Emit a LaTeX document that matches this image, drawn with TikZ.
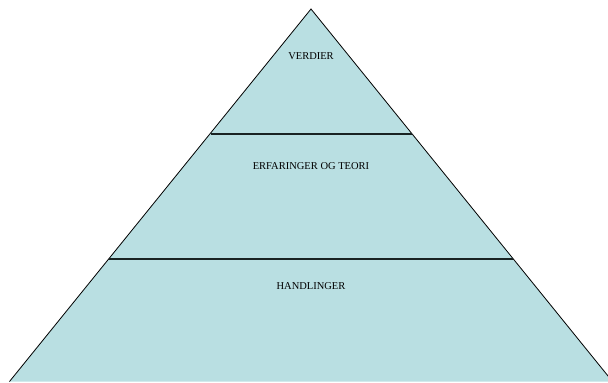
\documentclass[tikz,border=0pt]{standalone}
\usepackage{fontspec}
\setmainfont{Liberation Serif}
\definecolor{pyrfill}{RGB}{185,223,226}
\definecolor{pyrline}{RGB}{25,35,35}
\tikzset{
  label text/.style={font=\fontsize{10.5}{12}\selectfont, text=black, inner sep=0pt},
  tier line/.style={draw=pyrline, line width=2pt},
  outline/.style={draw=black, line width=0.8pt}
}
\begin{document}
\begin{tikzpicture}[x=1pt,y=-1pt]
\useasboundingbox (0,0) rectangle (608,383);
\clip (0,0) rectangle (608,383);
\coordinate (apex) at (311,9);
\coordinate (bl) at (9.5,381.5);
\coordinate (br) at (612.5,381.5);
\fill[pyrfill] (apex) -- (bl) -- (br) -- cycle;
\draw[outline] (bl) -- (apex) -- (br);
\coordinate (l1) at (210.5,133.5);
\coordinate (r1) at (412,133.5);
\coordinate (l2) at (109,258.5);
\coordinate (r2) at (513,258.5);
\draw[tier line] (l1) -- (r1);
\draw[tier line] (l2) -- (r2);
\node[label text] (verdier) at (311,56.5) {VERDIER};
\node[label text] (erfaringer) at (311,166.5) {ERFARINGER OG TEORI};
\node[label text] (handlinger) at (311,286.5) {HANDLINGER};
\end{tikzpicture}
\end{document}
